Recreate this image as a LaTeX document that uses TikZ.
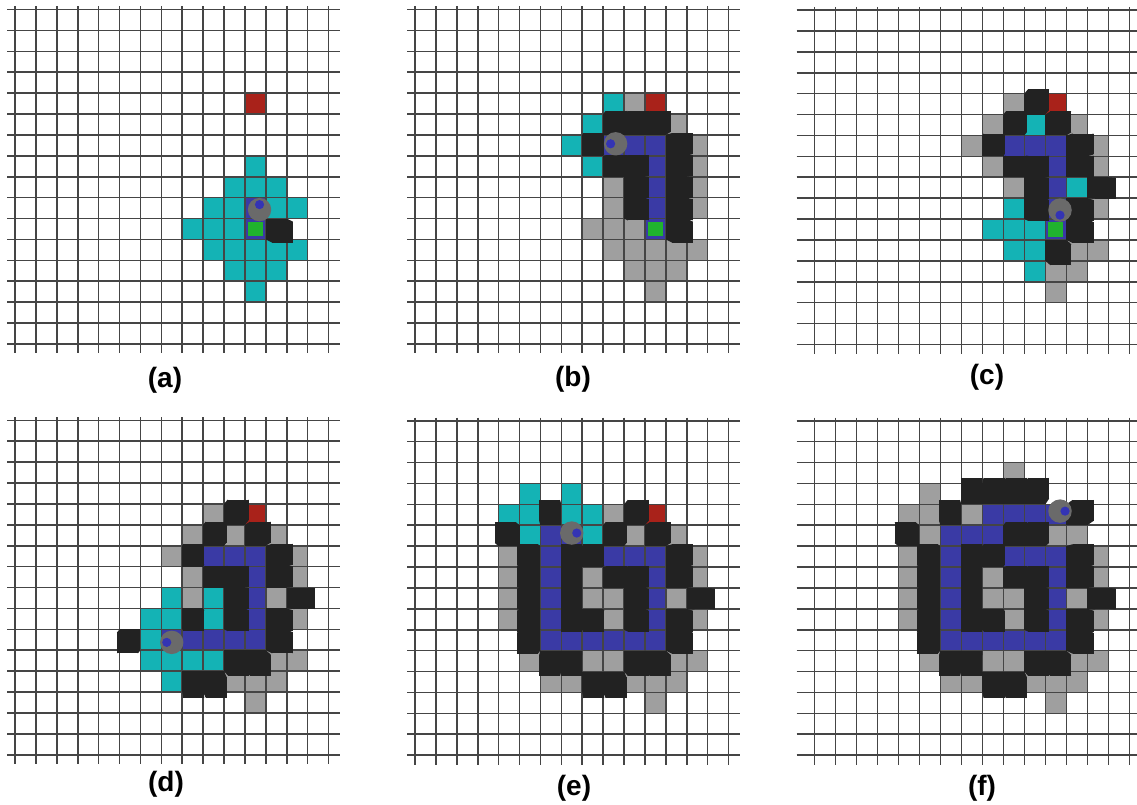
\documentclass[tikz,border=0pt]{standalone}
\usepackage{fontspec}
\setmainfont{Liberation Sans}
\definecolor{frontier}{HTML}{14B3B5}
\definecolor{explored}{HTML}{9F9F9F}
\definecolor{wall}{HTML}{222222}
\definecolor{trail}{HTML}{3A3AA5}
\definecolor{goal}{HTML}{A9221A}
\definecolor{home}{HTML}{20B32E}
\definecolor{botgrey}{HTML}{6A6A6A}
\definecolor{botblue}{HTML}{3434B4}
\definecolor{gridink}{HTML}{454545}
\tikzset{
    gridln/.style={draw=gridink, line width=1.6pt},
    cyancell/.style={fill=frontier},
    greycell/.style={fill=explored},
    pathcell/.style={fill=trail},
    goalcell/.style={fill=goal},
    homecell/.style={fill=home},
    wallcube/.style={fill=wall},
    botbody/.style={fill=botgrey},
    botdot/.style={fill=botblue},
    caption/.style={font=\fontsize{28}{32}\selectfont\bfseries, inner sep=0pt}
}
% grid of one panel, #1 = overhang on the left
\newcommand{\gridlines}[1]{%
    \foreach \i in {0,...,15} \draw[gridln] (\i,-0.15) -- (\i,16.45);
    \foreach \j in {0,...,16} \draw[gridln] (-#1,\j) -- (15.57,\j);
}
\newcommand{\cells}[2]{\foreach \c/\r in {#2} \fill[#1] (\c,\r) rectangle ++(1,1);}
% blocks seen from above the middle of the grid
\newcommand{\cubes}[1]{%
    \foreach \c/\r in {#1} {
        \pgfmathsetmacro\sx{0.06*(\c-7)}
        \pgfmathsetmacro\sy{0.06*(\r-7.5)}
        \fill[wallcube] (\c,\r) rectangle ++(1,1);
        \fill[wallcube] (\c,\r) ++(\sx,\sy) rectangle ++(1,1);
        \fill[wallcube] (\c,\r) -- ++(1,1) -- ++(\sx,\sy) -- ++(-1,-1) -- cycle;
        \fill[wallcube] (\c,\r) ++(1,0) -- ++(-1,1) -- ++(\sx,\sy) -- ++(1,-1) -- cycle;
    }}
% robot in cell (#1,#2), heading (#3,#4)
\newcommand{\robot}[4]{%
    \pgfmathsetmacro\bx{#1+0.5+0.05*(#1-7)}
    \pgfmathsetmacro\by{#2+0.5+0.05*(#2-7.5)}
    \fill[botbody] (\bx,\by) circle (0.56);
    \fill[botdot] ({\bx+0.24*(#3)},{\by+0.24*(#4)}) circle (0.22);
}

\begin{document}
\begin{tikzpicture}
    \fill[white] (0pt,0pt) rectangle (1137pt,-804pt);
    \useasboundingbox (0pt,0pt) rectangle (1137pt,-804pt);

    % (a)
    \begin{scope}[shift={(15pt,-9.5pt)}, x=20.9pt, y=-20.9pt]
        \cells{cyancell}{11/7, 10/8, 11/8, 12/8, 9/9, 10/9, 12/9, 13/9, 8/10, 9/10, 10/10,
            9/11, 10/11, 11/11, 12/11, 13/11, 10/12, 11/12, 12/12, 11/13}
        \cells{pathcell}{11/9, 11/10}
        \cells{goalcell}{11/4}
        \fill[homecell] (11.15,10.15) rectangle (11.85,10.85);
        \gridlines{0.38}
        \cubes{12/10}
        \robot{11}{9}{0}{-1}
    \end{scope}

    % (b)
    \begin{scope}[shift={(415pt,-9.5pt)}, x=20.9pt, y=-20.9pt]
        \cells{cyancell}{9/4, 8/5, 7/6, 8/7}
        \cells{greycell}{10/4, 12/5, 13/6, 13/7, 9/8, 13/8, 9/9, 13/9, 8/10, 9/10, 10/10,
            9/11, 10/11, 11/11, 12/11, 13/11, 10/12, 11/12, 12/12, 11/13}
        \cells{pathcell}{9/6, 10/6, 11/6, 11/7, 11/8, 11/9, 11/10}
        \cells{goalcell}{11/4}
        \fill[homecell] (11.15,10.15) rectangle (11.85,10.85);
        \gridlines{0.38}
        \cubes{9/5, 10/5, 11/5, 8/6, 12/6, 9/7, 10/7, 12/7, 10/8, 12/8, 10/9, 12/9, 12/10}
        \robot{9}{6}{-1}{0}
    \end{scope}

    % (c)
    \begin{scope}[shift={(814.3pt,-10pt)}, x=21pt, y=-20.9pt]
        \cells{cyancell}{10/5, 12/8, 9/9, 8/10, 9/10, 10/10, 9/11, 10/11, 10/12}
        \cells{greycell}{9/4, 8/5, 12/5, 7/6, 13/6, 8/7, 13/7, 9/8, 13/9, 12/11, 13/11,
            11/12, 12/12, 11/13}
        \cells{pathcell}{9/6, 10/6, 11/6, 11/7, 11/8, 11/9, 11/10}
        \cells{goalcell}{11/4}
        \fill[homecell] (11.15,10.15) rectangle (11.85,10.85);
        \gridlines{0.84}
        \cubes{10/4, 9/5, 11/5, 8/6, 12/6, 9/7, 10/7, 12/7, 10/8, 13/8, 10/9, 12/9, 12/10, 11/11}
        \robot{11}{9}{0}{1}
    \end{scope}

    % (d)
    \begin{scope}[shift={(15pt,-420.3pt)}, x=20.9pt, y=-20.9pt]
        \cells{cyancell}{7/8, 9/8, 6/9, 7/9, 9/9, 6/10, 6/11, 7/11, 8/11, 9/11, 7/12}
        \cells{greycell}{9/4, 8/5, 10/5, 12/5, 7/6, 13/6, 8/7, 13/7, 8/8, 12/8, 13/9,
            12/11, 13/11, 10/12, 11/12, 12/12, 11/13}
        \cells{pathcell}{9/6, 10/6, 11/6, 11/7, 11/8, 11/9, 11/10, 10/10, 9/10, 8/10, 7/10}
        \cells{goalcell}{11/4}
        \gridlines{0.38}
        \cubes{10/4, 9/5, 11/5, 8/6, 12/6, 9/7, 10/7, 12/7, 10/8, 13/8, 8/9, 10/9, 12/9,
            5/10, 12/10, 10/11, 11/11, 8/12, 9/12}
        \robot{7}{10}{-1}{0}
    \end{scope}

    % (e)
    \begin{scope}[shift={(415pt,-420.7pt)}, x=20.9pt, y=-20.9pt]
        \cells{cyancell}{5/3, 7/3, 4/4, 5/4, 7/4, 8/4, 5/5, 8/5}
        \cells{greycell}{9/4, 10/5, 12/5, 4/6, 13/6, 4/7, 8/7, 13/7, 4/8, 8/8, 9/8, 12/8,
            4/9, 9/9, 13/9, 5/11, 8/11, 9/11, 12/11, 13/11, 6/12, 7/12, 10/12, 11/12, 12/12, 11/13}
        \cells{pathcell}{6/5, 7/5, 6/6, 9/6, 10/6, 11/6, 6/7, 11/7, 6/8, 11/8, 6/9, 11/9,
            6/10, 7/10, 8/10, 9/10, 10/10, 11/10}
        \cells{goalcell}{11/4}
        \gridlines{0.38}
        \cubes{6/4, 10/4, 4/5, 9/5, 11/5, 5/6, 7/6, 8/6, 12/6, 5/7, 7/7, 9/7, 10/7, 12/7,
            5/8, 7/8, 10/8, 13/8, 5/9, 7/9, 8/9, 10/9, 12/9, 5/10, 12/10, 6/11, 7/11,
            10/11, 11/11, 8/12, 9/12}
        \robot{7}{5}{1}{0}
    \end{scope}

    % (f)
    \begin{scope}[shift={(814.3pt,-420.7pt)}, x=21pt, y=-20.9pt]
        \cells{greycell}{9/2, 5/3, 4/4, 5/4, 7/4, 5/5, 11/5, 12/5, 4/6, 13/6, 4/7, 8/7, 13/7,
            4/8, 8/8, 9/8, 12/8, 4/9, 9/9, 13/9, 5/11, 8/11, 9/11, 12/11, 13/11, 6/12, 7/12,
            10/12, 11/12, 12/12, 11/13}
        \cells{pathcell}{8/4, 9/4, 10/4, 11/4, 6/5, 7/5, 8/5, 6/6, 9/6, 10/6, 11/6, 6/7, 11/7,
            6/8, 11/8, 6/9, 11/9, 6/10, 7/10, 8/10, 9/10, 10/10, 11/10}
        \gridlines{0.84}
        \cubes{7/3, 8/3, 9/3, 10/3, 6/4, 12/4, 4/5, 9/5, 10/5, 5/6, 7/6, 8/6, 12/6, 5/7, 7/7,
            9/7, 10/7, 12/7, 5/8, 7/8, 10/8, 13/8, 5/9, 7/9, 8/9, 10/9, 12/9, 5/10, 12/10,
            6/11, 7/11, 10/11, 11/11, 8/12, 9/12}
        \robot{11}{4}{1}{0}
    \end{scope}

    \node[caption] (capa) at (165pt,-380pt) {(a)};
    \node[caption] (capb) at (573pt,-379pt) {(b)};
    \node[caption] (capc) at (987pt,-377pt) {(c)};
    \node[caption] (capd) at (166pt,-784pt) {(d)};
    \node[caption] (cape) at (574pt,-788pt) {(e)};
    \node[caption] (capf) at (982pt,-788pt) {(f)};
\end{tikzpicture}
\end{document}
